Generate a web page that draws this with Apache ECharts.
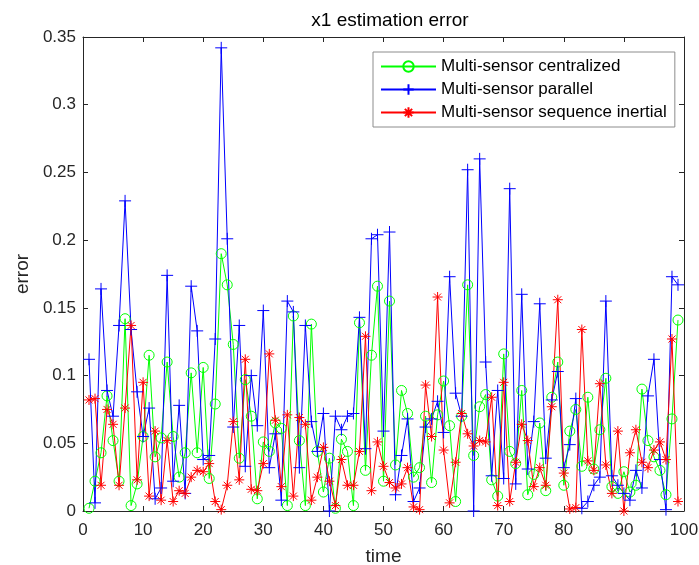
<!DOCTYPE html>
<html>
<head>
<meta charset="utf-8">
<title>x1 estimation error</title>
<script src="https://cdn.jsdelivr.net/npm/echarts@6/dist/echarts.min.js"></script>
<style>
    html, body {margin: 0; padding: 0; background: #fff;}
    #main {width: 699px; height: 565px;}
</style>
</head>
<body>
<div id="main"></div>
<script>
// 各时刻误差 (time = 1..99)
var centralized = [
    0.002, 0.022, 0.043, 0.085, 0.052, 0.022, 0.142, 0.004, 0.020, 0.055,
    0.115, 0.040, 0.054, 0.110, 0.055, 0.025, 0.043, 0.102, 0.043, 0.106,
    0.024, 0.079, 0.190, 0.167, 0.123, 0.039, 0.097, 0.070, 0.009, 0.051,
    0.044, 0.065, 0.061, 0.004, 0.144, 0.052, 0.004, 0.138, 0.044, 0.014,
    0.039, 0.002, 0.053, 0.044, 0.004, 0.139, 0.030, 0.115, 0.166, 0.022,
    0.155, 0.034, 0.089, 0.072, 0.025, 0.032, 0.070, 0.021, 0.071, 0.096,
    0.063, 0.007, 0.070, 0.167, 0.041, 0.077, 0.086, 0.023, 0.011, 0.116,
    0.044, 0.035, 0.089, 0.012, 0.027, 0.065, 0.015, 0.084, 0.110, 0.019,
    0.059, 0.075, 0.033, 0.084, 0.031, 0.060, 0.098, 0.018, 0.013, 0.029,
    0.014, 0.019, 0.090, 0.052, 0.040, 0.030, 0.012, 0.068, 0.141
];
var parallel = [
    0.112, 0.006, 0.164, 0.089, 0.070, 0.137, 0.229, 0.134, 0.088, 0.055,
    0.076, 0.009, 0.017, 0.174, 0.022, 0.078, 0.013, 0.166, 0.133, 0.038,
    0.041, 0.127, 0.342, 0.201, 0.062, 0.137, 0.033, 0.100, 0.063, 0.148,
    0.032, 0.057, 0.008, 0.155, 0.147, 0.032, 0.137, 0.066, 0.044, 0.072,
    0.000, 0.070, 0.060, 0.070, 0.072, 0.143, 0.046, 0.201, 0.204, 0.059,
    0.206, 0.012, 0.041, 0.068, 0.007, 0.017, 0.062, 0.068, 0.081, 0.058,
    0.173, 0.087, 0.070, 0.252, 0.000, 0.260, 0.110, 0.026, 0.089, 0.024,
    0.238, 0.020, 0.160, 0.031, 0.066, 0.153, 0.039, 0.082, 0.103, 0.032,
    0.049, 0.083, 0.002, 0.007, 0.019, 0.025, 0.155, 0.026, 0.019, 0.013,
    0.008, 0.030, 0.017, 0.085, 0.112, 0.038, 0.001, 0.173, 0.167
];
var sequenceInertial = [
    0.082, 0.083, 0.019, 0.075, 0.064, 0.019, 0.076, 0.137, 0.023, 0.095,
    0.011, 0.059, 0.008, 0.052, 0.007, 0.015, 0.013, 0.025, 0.030, 0.029,
    0.035, 0.007, 0.001, 0.019, 0.066, 0.023, 0.112, 0.016, 0.015, 0.035,
    0.116, 0.067, 0.018, 0.071, 0.011, 0.069, 0.064, 0.008, 0.025, 0.047,
    0.022, 0.004, 0.038, 0.019, 0.019, 0.044, 0.129, 0.015, 0.051, 0.033,
    0.021, 0.017, 0.020, 0.032, 0.003, 0.001, 0.093, 0.055, 0.158, 0.045,
    0.006, 0.036, 0.072, 0.057, 0.048, 0.052, 0.051, 0.084, 0.004, 0.095,
    0.007, 0.036, 0.064, 0.052, 0.018, 0.032, 0.019, 0.077, 0.156, 0.028,
    0.0015, 0.0025, 0.134, 0.037, 0.030, 0.094, 0.034, 0.013, 0.059, 0.000,
    0.043, 0.060, 0.036, 0.032, 0.045, 0.051, 0.038, 0.127, 0.007
];
var legendNames = ['Multi-sensor centralized', 'Multi-sensor parallel', 'Multi-sensor sequence inertial'];
var yTickLabels = ['0', '0.05', '0.1', '0.15', '0.2', '0.25', '0.3', '0.35'];

var FONT = 'Liberation Sans, Arial, sans-serif';
var AXIS_COLOR = '#262626';
var PLUS = 'path://M0,-1L0,1M-1,0L1,0';
var STAR = 'path://M0,-1L0,1M-1,0L1,0M-0.7,-0.7L0.7,0.7M-0.7,0.7L0.7,-0.7';

function toPoints(arr) {
    return arr.map(function (v, i) {
        return [i + 1, v];
    });
}

function makeSeries(name, arr, color, symbol, size) {
    return {
        name: name,
        type: 'line',
        data: toPoints(arr),
        symbol: symbol,
        symbolSize: size,
        showAllSymbol: true,
        clip: false,
        lineStyle: {color: color, width: 1},
        itemStyle: {color: 'rgba(0,0,0,0)', borderColor: color, borderWidth: 1},
        emphasis: {disabled: true}
    };
}

function axisBase(show) {
    return {
        axisLine: {show: true, onZero: false, lineStyle: {color: AXIS_COLOR, width: 1}},
        axisTick: {show: true, inside: true, length: 5, lineStyle: {color: AXIS_COLOR}},
        splitLine: {show: false},
        axisLabel: {show: show}
    };
}

var myChart = echarts.init(document.getElementById('main'), null, {renderer: 'canvas'});

var xBottom = axisBase(true);
xBottom.type = 'value';
xBottom.min = 0;
xBottom.max = 100;
xBottom.interval = 10;
xBottom.position = 'bottom';
xBottom.name = 'time';
xBottom.nameLocation = 'middle';
xBottom.nameGap = 36;
xBottom.nameTextStyle = {fontFamily: FONT, fontSize: 19, color: AXIS_COLOR};
xBottom.axisLabel = {show: true, margin: 11, fontFamily: FONT, fontSize: 17, color: AXIS_COLOR};

var xTop = axisBase(false);
xTop.type = 'value';
xTop.min = 0;
xTop.max = 100;
xTop.interval = 10;
xTop.position = 'top';

var yLeft = axisBase(true);
yLeft.type = 'value';
yLeft.min = 0;
yLeft.max = 0.35;
yLeft.interval = 0.05;
yLeft.position = 'left';
yLeft.name = 'error';
yLeft.nameLocation = 'middle';
yLeft.nameGap = 51;
yLeft.nameTextStyle = {fontFamily: FONT, fontSize: 19, color: AXIS_COLOR};
yLeft.axisLabel = {
    show: true, margin: 7, fontFamily: FONT, fontSize: 17, color: AXIS_COLOR,
    formatter: function (v) {
        return yTickLabels[Math.round(v / 0.05)];
    }
};

var yRight = axisBase(false);
yRight.type = 'value';
yRight.min = 0;
yRight.max = 0.35;
yRight.interval = 0.05;
yRight.position = 'right';

var option = {
    animation: false,
    backgroundColor: '#ffffff',
    title: {
        text: 'x1 estimation error',
        left: 385,
        top: 6,
        textAlign: 'center',
        textStyle: {fontFamily: FONT, fontSize: 19, fontWeight: 'normal', color: '#000'}
    },
    grid: {left: 83, right: 15, top: 37, bottom: 54, containLabel: false, outerBoundsMode: 'none'},
    legend: {
        orient: 'vertical',
        left: 373,
        top: 52,
        width: 303,
        padding: [5, 8, 5, 7],
        itemGap: 4,
        itemWidth: 55,
        itemHeight: 13,
        backgroundColor: '#ffffff',
        borderColor: '#8c8c8c',
        borderWidth: 1,
        textStyle: {fontFamily: FONT, fontSize: 17, color: '#000', lineHeight: 19},
        data: legendNames
    },
    xAxis: [xBottom, xTop],
    yAxis: [yLeft, yRight],
    series: [
        makeSeries(legendNames[0], centralized, '#00ff00', 'circle', 10),
        makeSeries(legendNames[1], parallel, '#0000ff', PLUS, 12),
        makeSeries(legendNames[2], sequenceInertial, '#ff0000', STAR, 10)
    ]
};

myChart.setOption(option);
</script>
</body>
</html>
